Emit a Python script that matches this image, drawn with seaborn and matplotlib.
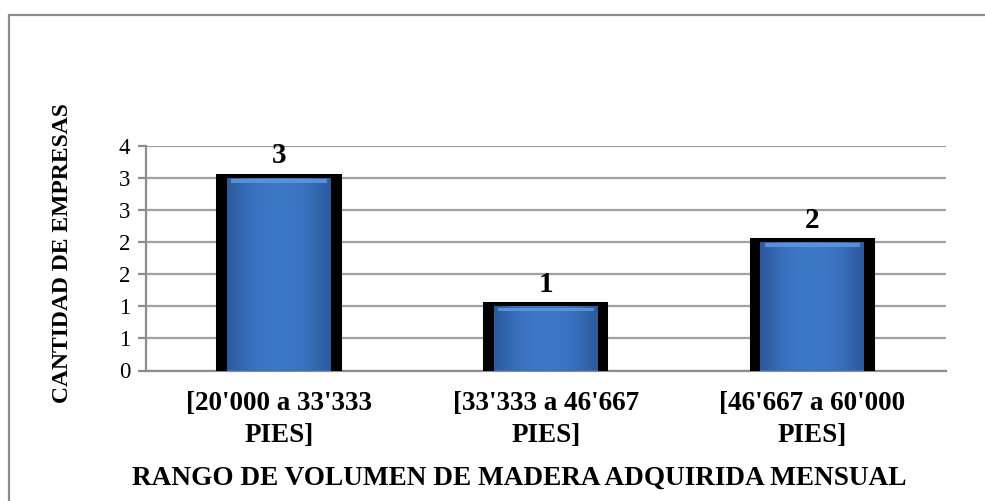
import numpy as np
import matplotlib
matplotlib.use("Agg")
import matplotlib.pyplot as plt
import seaborn as sns
import pandas as pd
from matplotlib.patches import Rectangle
from matplotlib.ticker import FixedLocator, FuncFormatter

# data
rangos = ["[20'000 a 33'333\nPIES]", "[33'333 a 46'667\nPIES]", "[46'667 a 60'000\nPIES]"]
empresas = [3, 1, 2]
y_ticks = [0, 0.5, 1, 1.5, 2, 2.5, 3, 3.5]

df = pd.DataFrame({"rango": rangos, "empresas": empresas})

sns.set_style("white")
plt.rcParams["font.family"] = ["Liberation Serif", "DejaVu Serif"]
plt.rcParams["text.color"] = "black"
plt.rcParams["xtick.color"] = "black"
plt.rcParams["ytick.color"] = "black"

fig = plt.figure(figsize=(9.85, 5.01), dpi=100)
ax = fig.add_axes([145.7 / 985, 1 - 370.5 / 501, 800 / 985, (370.5 - 145.7) / 501])

# outer chart border (cut off at right/bottom like the reference)
fig.patches.append(Rectangle((9 / 985, -0.2), 1.2, 1 - 15 / 501 + 0.2, transform=fig.transFigure,
                             fill=False, edgecolor="#8c8c8c", linewidth=1.6, zorder=0))

# black frame bars, then blue inner bars
sns.barplot(data=df, x="rango", y="empresas", color="black", width=0.44,
            edgecolor="black", linewidth=5.8, saturation=1, ax=ax, zorder=3)
n_black = len(ax.patches)
sns.barplot(data=df, x="rango", y="empresas", color="#3a70c2", width=0.39,
            linewidth=0, saturation=1, ax=ax, zorder=4)

# gradient fill on the blue bars
cmap = matplotlib.colors.LinearSegmentedColormap.from_list(
    "bar", ["#2c5a9c", "#3a72c0", "#3d78c8", "#3a72c0", "#2c5a9c"])
grad = np.linspace(0, 1, 64).reshape(1, -1)
for p in ax.patches[n_black:]:
    x0, y0 = p.get_x(), p.get_y()
    w, h = p.get_width(), p.get_height()
    im = ax.imshow(grad, cmap=cmap, aspect="auto", extent=[x0, x0 + w, y0, y0 + h],
                   zorder=5, interpolation="bicubic")
    im.set_clip_path(p)
    ax.add_patch(Rectangle((x0 + w * 0.04, y0 + h - 0.08), w * 0.92, 0.06,
                           facecolor="#5f98de", edgecolor="none", zorder=6, alpha=0.85))

ax.set_xlim(-0.5, 2.5)
ax.set_ylim(0, 3.5)
ax.yaxis.set_major_locator(FixedLocator(y_ticks))
ax.yaxis.set_major_formatter(FuncFormatter(lambda v, pos: f"{int(np.floor(v + 0.5))}"))
ax.grid(axis="y", color="#a0a0a0", linewidth=1.6, zorder=1)
ax.set_axisbelow(True)
for s in ["top", "right"]:
    ax.spines[s].set_visible(False)
for s in ["left", "bottom"]:
    ax.spines[s].set_color("#8c8c8c")
    ax.spines[s].set_linewidth(1.6)
ax.tick_params(axis="y", direction="out", length=6, width=1.6, color="#8c8c8c",
               labelsize=16.5, pad=5, left=True, labelcolor="black")
ax.tick_params(axis="x", length=0, pad=15, labelcolor="black")
for lab in ax.get_xticklabels():
    lab.set_fontsize(19.5)
    lab.set_fontweight("bold")
    lab.set_linespacing(1.35)
    lab.set_multialignment("center")

for i, v in enumerate(empresas):
    ax.text(i, v + 0.13, f"{v}", ha="center", va="bottom", fontsize=21, fontweight="bold", zorder=7)

ax.set_xlabel("")
ax.set_ylabel("")
fig.text(63 / 985, 1 - 253 / 501, "CANTIDAD DE EMPRESAS", rotation=90, ha="center", va="center",
         fontsize=17, fontweight="bold")
fig.text(519 / 985, 1 - 478 / 501, "RANGO DE VOLUMEN DE MADERA ADQUIRIDA MENSUAL", ha="center",
         va="center", fontsize=19.6, fontweight="bold")

fig.savefig("out.png", dpi=100, facecolor="white")
